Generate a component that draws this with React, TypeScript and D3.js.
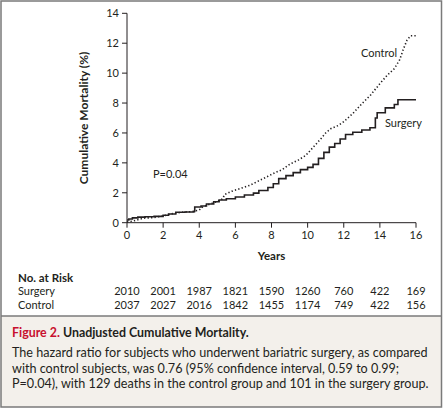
import React from "react";
import * as d3 from "d3";

const surgeryT = [0, 0.1, 0.3, 0.6, 1.0, 1.5, 2.0, 2.3, 2.7, 3.2, 3.7, 3.75, 4.1, 4.4, 4.8, 5.1, 5.5, 6.0, 6.5, 7.0, 7.3, 7.8, 8.1, 8.4, 8.8, 9.2, 9.6, 10.0, 10.3, 10.6, 10.9, 11.2, 11.5, 11.8, 12.1, 12.5, 13.0, 13.45, 13.75, 13.85, 14.3, 14.8, 15.0, 16.0];
const surgeryV = [0.18, 0.25, 0.32, 0.37, 0.4, 0.42, 0.5, 0.58, 0.7, 0.72, 0.75, 1.05, 1.12, 1.25, 1.4, 1.52, 1.6, 1.72, 1.85, 1.98, 2.15, 2.35, 2.6, 2.95, 3.15, 3.35, 3.55, 3.7, 3.9, 4.3, 4.7, 5.05, 5.3, 5.6, 5.9, 6.05, 6.2, 6.35, 7.0, 7.35, 7.68, 7.9, 8.22, 8.22];

const controlT = [0, 0.3, 0.6, 0.9, 1.5, 2.0, 2.4, 3.0, 3.6, 4.0, 4.2, 4.6, 5.0, 5.3, 5.4, 5.8, 6.3, 6.8, 7.3, 7.8, 8.2, 8.6, 9.0, 9.5, 9.9, 10.2, 10.5, 10.8, 11.0, 11.3, 11.7, 12.0, 12.5, 13.0, 13.5, 14.0, 14.4, 14.8, 15.1, 15.3, 15.5, 15.7, 16.0];
const controlV = [0.05, 0.1, 0.2, 0.3, 0.35, 0.45, 0.58, 0.7, 0.74, 0.85, 1.05, 1.25, 1.42, 1.6, 1.88, 2.1, 2.3, 2.5, 2.8, 3.1, 3.35, 3.55, 3.9, 4.2, 4.5, 4.9, 5.3, 5.7, 6.0, 6.3, 6.5, 6.75, 7.3, 7.95, 8.55, 9.3, 9.85, 10.3, 10.9, 11.6, 12.2, 12.5, 12.5];

const xTicks = [0, 2, 4, 6, 8, 10, 12, 14, 16];
const yTicks = [0, 2, 4, 6, 8, 10, 12, 14];
const riskGroups = ["Surgery", "Control"];
const riskSurgery = [2010, 2001, 1987, 1821, 1590, 1260, 760, 422, 169];
const riskControl = [2037, 2027, 2016, 1842, 1455, 1174, 749, 422, 156];

const captionTitle = "Figure 2.";
const captionSubtitle = "Unadjusted Cumulative Mortality.";
const captionLines = [
  "The hazard ratio for subjects who underwent bariatric surgery, as compared",
  "with control subjects, was 0.76 (95% confidence interval, 0.59 to 0.99;",
  "P=0.04), with 129 deaths in the control group and 101 in the surgery group.",
];

const FONT = "Lato, 'Open Sans', sans-serif";
const INK = "#231f20";

export default function App() {
  const x = d3.scaleLinear().domain([0, 16]).range([127, 416]);
  const y = d3.scaleLinear().domain([0, 14]).range([222.7, 13.3]);
  const stepLine = d3
    .line<[number, number]>()
    .x((d) => x(d[0]))
    .y((d) => y(d[1]))
    .curve(d3.curveStepAfter);
  const smoothLine = d3
    .line<[number, number]>()
    .x((d) => x(d[0]))
    .y((d) => y(d[1]))
    .curve(d3.curveLinear);
  const sData = surgeryT.map((t, i) => [t, surgeryV[i]] as [number, number]);
  const cData = controlT.map((t, i) => [t, controlV[i]] as [number, number]);
  const riskRows = [riskSurgery, riskControl];

  return (
    <svg
      width={443}
      height={409}
      style={{ position: "absolute", left: 0, top: 0 }}
      fontFamily={FONT}
    >
      <rect x={0} y={0} width={443} height={409} fill="#ffffff" />
      <rect x={1} y={316} width={440.5} height={91} fill="#f3f0eb" />
      <line x1={1} x2={441.5} y1={316} y2={316} stroke="#7a7a7a" strokeWidth={1.3} />
      <rect x={1} y={1} width={440.5} height={406} fill="none" stroke="#7a7a7a" strokeWidth={1.5} />

      {/* axes */}
      <line x1={x(0)} x2={x(0)} y1={y(14)} y2={y(0)} stroke={INK} strokeWidth={1} />
      <line x1={x(0)} x2={x(16)} y1={y(0)} y2={y(0)} stroke={INK} strokeWidth={1} />
      {yTicks.map((t) => (
        <g key={"y" + t}>
          <line x1={x(0) - 5} x2={x(0)} y1={y(t)} y2={y(t)} stroke={INK} />
          <text x={x(0) - 8} y={y(t) + 4} fontSize={11} textAnchor="end" fill={INK}>
            {t}
          </text>
        </g>
      ))}
      {xTicks.map((t) => (
        <g key={"x" + t}>
          <line x1={x(t)} x2={x(t)} y1={y(0)} y2={y(0) + 5} stroke={INK} />
          <text x={x(t)} y={y(0) + 16} fontSize={11} textAnchor="middle" fill={INK}>
            {t}
          </text>
        </g>
      ))}
      <text x={x(8)} y={260} fontSize={11.5} fontWeight="bold" textAnchor="middle" fill={INK}>
        Years
      </text>
      <text
        transform={`translate(88,${(13.3 + 222.7) / 2}) rotate(-90)`}
        fontSize={12}
        fontWeight="bold"
        textAnchor="middle"
        fill={INK}
      >
        Cumulative Mortality (%)
      </text>

      {/* curves */}
      <path d={smoothLine(cData) || ""} fill="none" stroke={INK} strokeWidth={1.6} strokeDasharray="1.3 2.2" />
      <path d={stepLine(sData) || ""} fill="none" stroke={INK} strokeWidth={1.6} />

      <text x={153} y={178} fontSize={11} fill={INK}>P=0.04</text>
      <text x={361} y={57} fontSize={11} fill={INK}>Control</text>
      <text x={385} y={127} fontSize={11} fill={INK}>Surgery</text>

      {/* risk table */}
      <text x={18} y={282} fontSize={11.5} fontWeight="bold" fill={INK}>No. at Risk</text>
      {riskGroups.map((g, r) => (
        <g key={g}>
          <text x={18} y={295 + r * 13.5} fontSize={11} fill={INK}>{g}</text>
          {riskRows[r].map((n, i) => (
            <text key={i} x={x(xTicks[i])} y={295 + r * 13.5} fontSize={11} textAnchor="middle" fill={INK}>
              {n}
            </text>
          ))}
        </g>
      ))}

      {/* caption */}
      <text x={12} y={337} fontSize={12.4} fontWeight="bold">
        <tspan fill="#c8102e">{captionTitle}</tspan>
        <tspan fill={INK}> {captionSubtitle}</tspan>
      </text>
      {captionLines.map((l, i) => (
        <text key={i} x={12} y={357 + i * 15.7} fontSize={12.6} fill={INK}>
          {l}
        </text>
      ))}
    </svg>
  );
}
